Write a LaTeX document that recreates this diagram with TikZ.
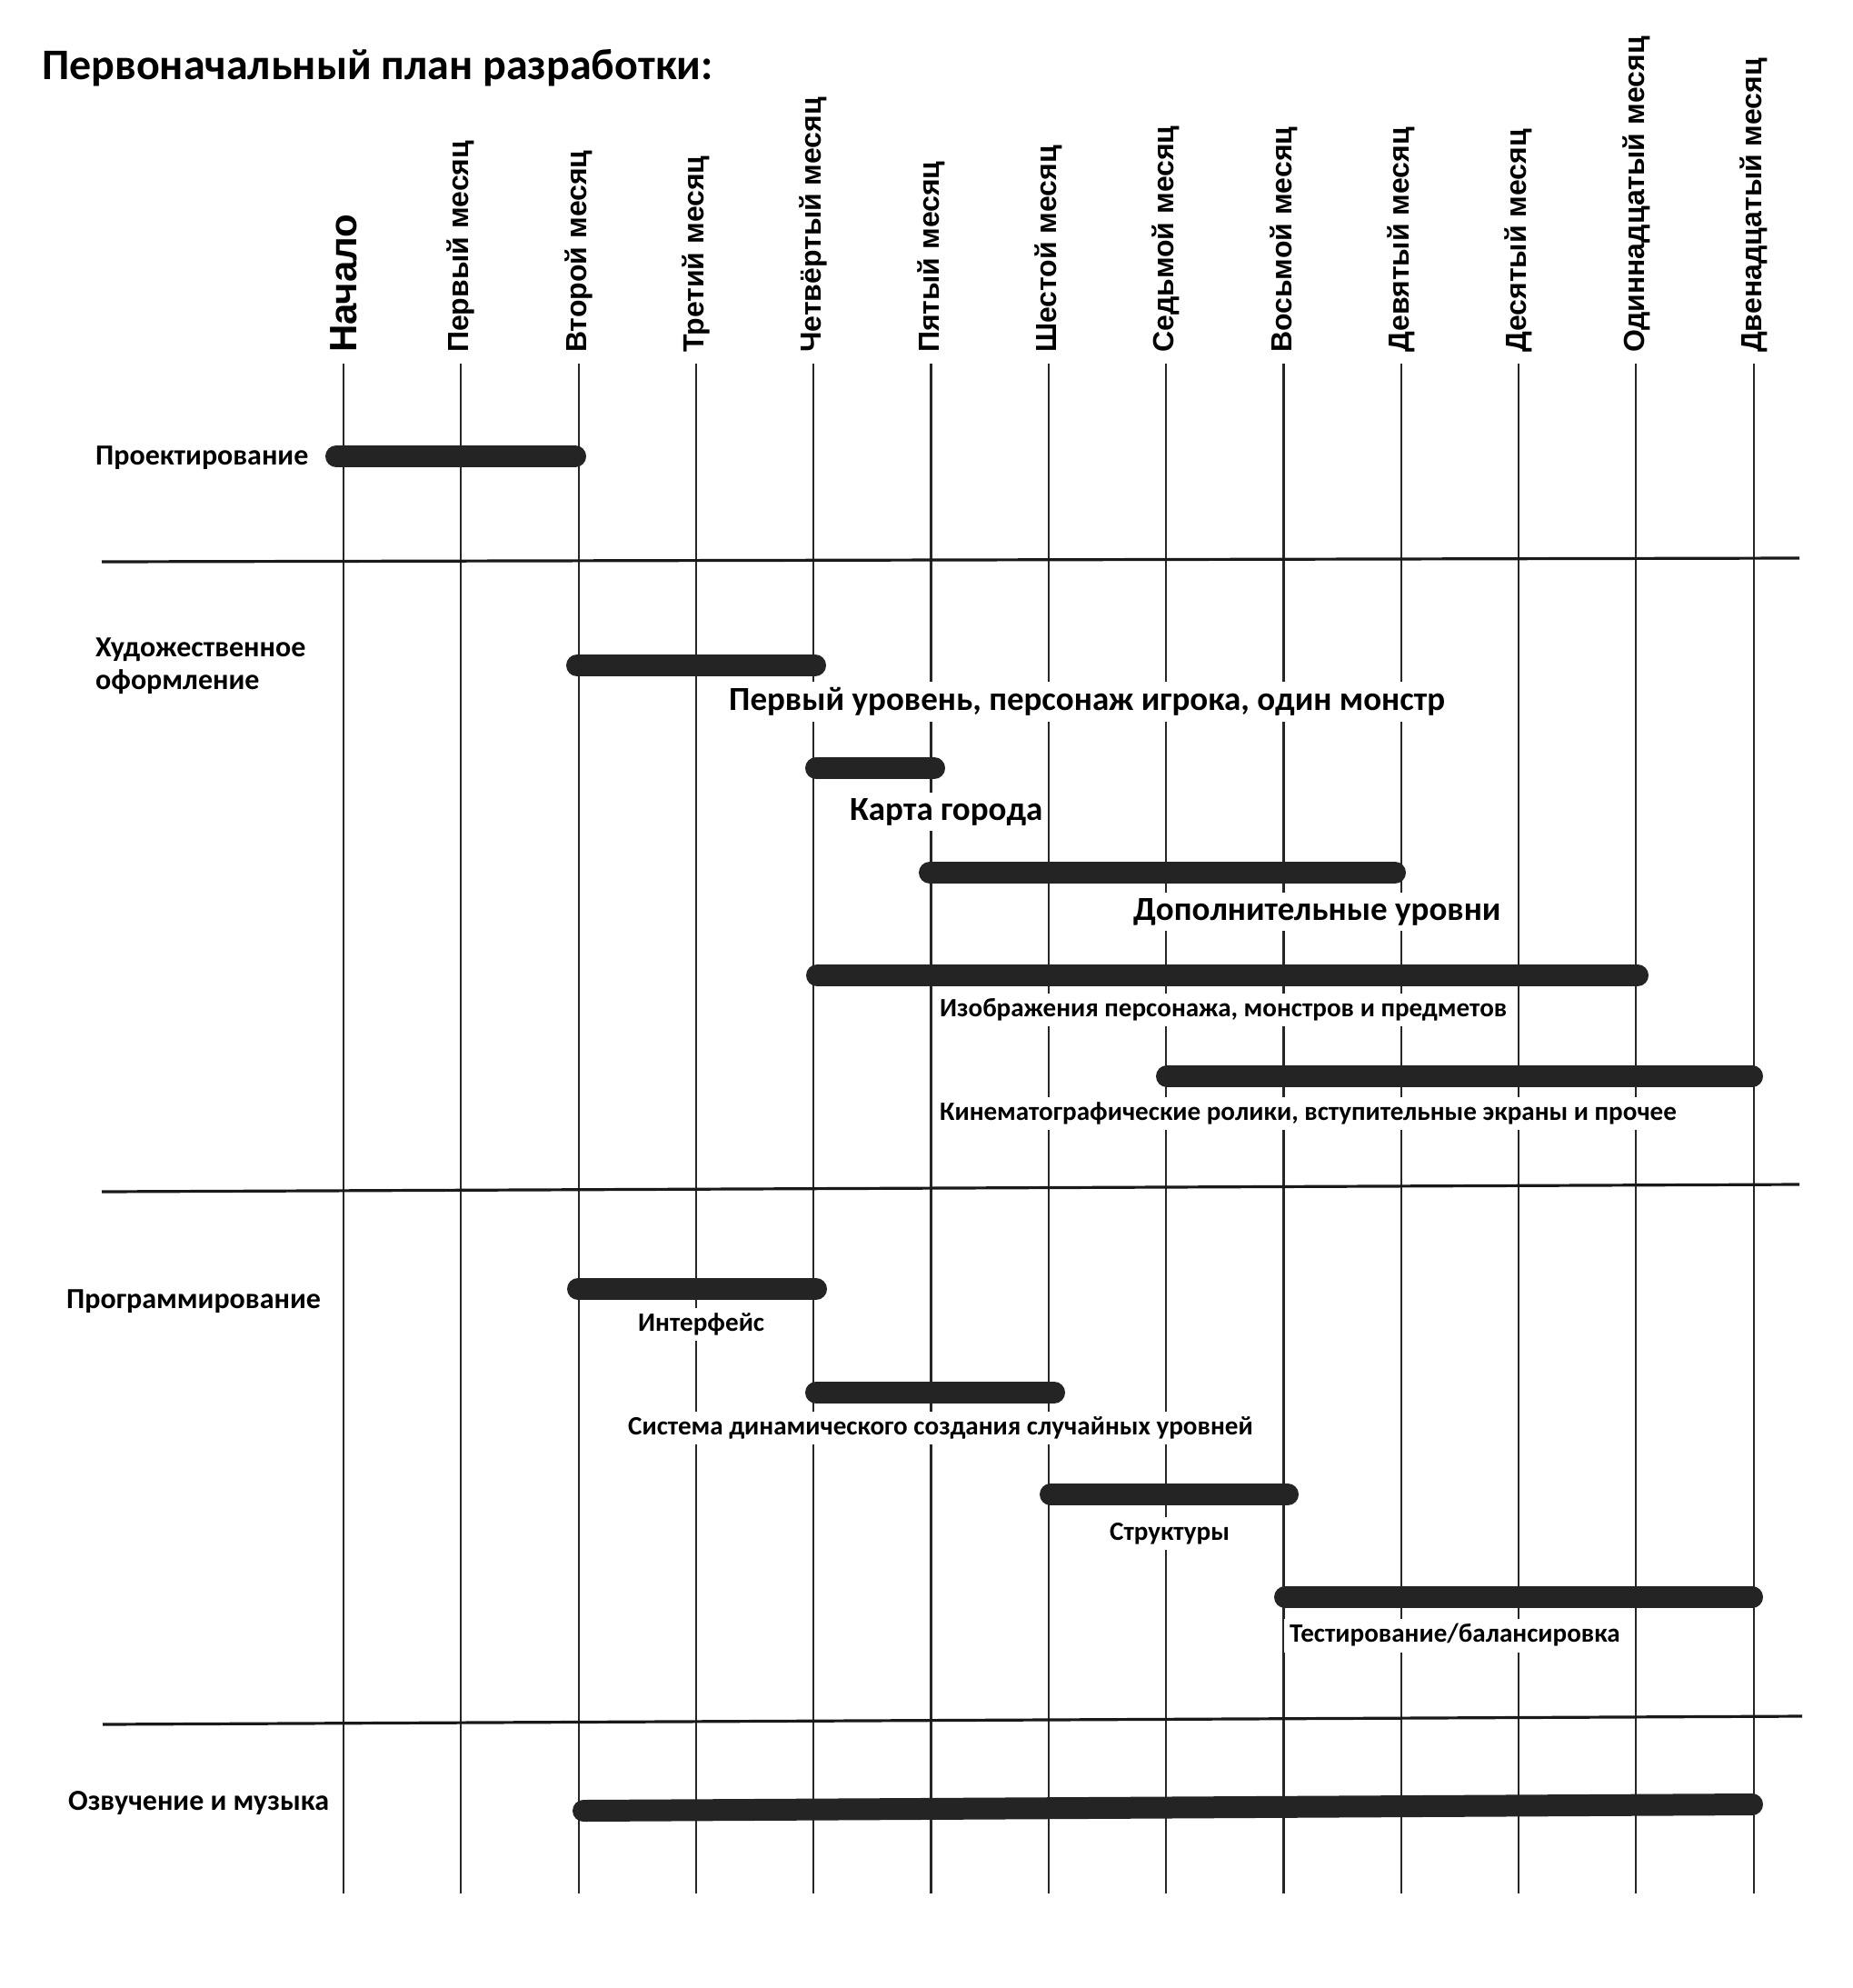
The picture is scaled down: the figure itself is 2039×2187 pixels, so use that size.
\documentclass[tikz,border=0pt]{standalone}
\usepackage{fontspec}
\newfontfamily\calfont{Carlito}
\newfontfamily\arfont{Liberation Sans}
\begin{document}
\begin{tikzpicture}[x=1pt,y=-1pt,
  gridline/.style={line width=2.2pt,black!85},
  sepline/.style={line width=3.2pt,black!90},
  bar/.style={line width=24pt,line cap=round,black!86},
  month/.style={rotate=90,anchor=west,inner sep=0pt,font=\arfont\bfseries\fontsize{32}{36}\selectfont},
  sect/.style={anchor=base west,inner sep=0pt,font=\calfont\bfseries\fontsize{32}{38}\selectfont},
  big/.style={anchor=west,fill=white,inner sep=6pt,font=\calfont\bfseries\fontsize{37}{42}\selectfont},
  small/.style={anchor=west,fill=white,inner sep=6pt,font=\calfont\bfseries\fontsize{29.1}{33}\selectfont}]
\useasboundingbox[fill=white] (0,0) rectangle (2039,2187);

% title
\node[anchor=base west,inner sep=0pt,font=\calfont\bfseries\fontsize{48}{56}\selectfont] (title) at (46,87) {Первоначальный план разработки:};

% month columns
\foreach \i in {0,...,12}{
  \coordinate (t\i) at ({378+129.3*\i},400);
  \coordinate (b\i) at ({378+129.3*\i},2083);
  \draw[gridline] (t\i) -- (b\i);
}
\foreach \i/\t in {1/Первый месяц,2/Второй месяц,3/Третий месяц,4/Четвёртый месяц,5/Пятый месяц,6/Шестой месяц,7/Седьмой месяц,8/Восьмой месяц,9/Девятый месяц,10/Десятый месяц,11/Одиннадцатый месяц,12/Двенадцатый месяц}{
  \node[month] (m\i) at ({378+129.3*\i},388) {\t};
}
\node[month,font=\arfont\bfseries\fontsize{42}{46}\selectfont] (m0) at (378,388) {Начало};

% separators
\coordinate (s1a) at (112,618); \coordinate (s1b) at (1980,614);
\coordinate (s2a) at (112,1311); \coordinate (s2b) at (1980,1303);
\coordinate (s3a) at (113,1897); \coordinate (s3b) at (1983,1888);
\draw[sepline] (s1a) -- (s1b);
\draw[sepline] (s2a) -- (s2b);
\draw[sepline] (s3a) -- (s3b);

% section labels
\node[sect] (sec1) at (105,511) {Проектирование};
\node[sect] (sec2a) at (105,722) {Художественное};
\node[sect] (sec2b) at (105,758) {оформление};
\node[sect] (sec3) at (73,1439) {Программирование};
\node[sect] (sec4) at (75,1991) {Озвучение и музыка};

% bar labels
\node[big] (l2) at (796,772) {Первый уровень, персонаж игрока, один монстр};
\node[big] (l3) at (929,893) {Карта города};
\node[big] (l4) at (1241,1003) {Дополнительные уровни};
\node[small] (l5) at (1028,1111) {Изображения персонажа, монстров и предметов};
\node[small] (l6) at (1028,1225) {Кинематографические ролики, вступительные экраны и прочее};
\node[small] (l7) at (696,1457) {Интерфейс};
\node[small] (l8) at (685,1571) {Система динамического создания случайных уровней};
\node[small] (l9) at (1215,1687) {Структуры};
\node[small] (l10) at (1413,1799) {Тестирование/балансировка};

% bars
\coordinate (a1) at (370,502);  \coordinate (e1) at (633,502);
\coordinate (a2) at (635,732);  \coordinate (e2) at (897,732);
\coordinate (a3) at (898,845);  \coordinate (e3) at (1028,845);
\coordinate (a4) at (1023,960); \coordinate (e4) at (1535,960);
\coordinate (a5) at (899,1073); \coordinate (e5) at (1802,1073);
\coordinate (a6) at (1284,1184); \coordinate (e6) at (1928,1184);
\coordinate (a7) at (636,1418); \coordinate (e7) at (898,1418);
\coordinate (a8) at (898,1532); \coordinate (e8) at (1160,1532);
\coordinate (a9) at (1156,1644); \coordinate (e9) at (1417,1644);
\coordinate (a10) at (1414,1757); \coordinate (e10) at (1928,1757);
\coordinate (a11) at (642,1992); \coordinate (e11) at (1928,1985);
\foreach \k in {1,...,11}{ \draw[bar] (a\k) -- (e\k); }
\end{tikzpicture}
\end{document}
